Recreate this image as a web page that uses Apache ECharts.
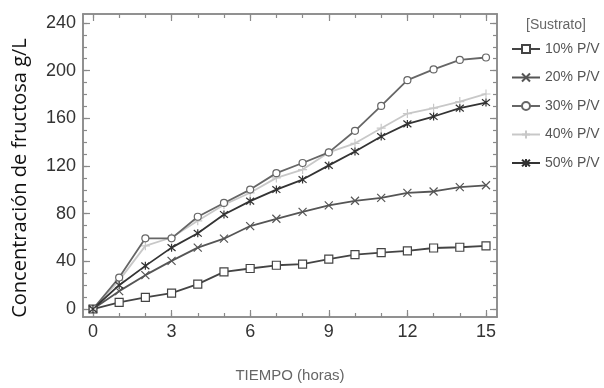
<!DOCTYPE html>
<html><head><meta charset="utf-8">
<script src="https://cdn.jsdelivr.net/npm/echarts@6/dist/echarts.min.js"></script>
<style>html,body{margin:0;padding:0;background:#fff}#c{width:604px;height:388px}</style>
</head><body><div id="c"></div>
<script>
const hours = [0,1,2,3,4,5,6,7,8,9,10,11,12,13,14,15];
const s10 = [0,5.6,9.7,13.4,20.9,31.2,34,36.7,37.6,41.8,45.7,47.3,48.7,51.2,51.8,52.9];
const s20 = [0,15,28.4,40.4,51.5,59,69.6,75.7,81.5,86.9,90.8,93.3,97.4,98.6,102.2,103.8];
const s30 = [0,26.4,59.3,59.3,77.4,89,100.2,114,122.5,131.4,149.5,170.4,192,201,209,211];
const s40 = [0,24,53,60,74,87.5,97.5,110,117,131.4,139,151.7,164,168.5,174,180.4];
const s50 = [0,20,36.2,51.5,63.5,79.3,90.5,100.2,108.6,120.5,132.2,144.7,155.3,161.5,168.5,173.2];
const seriesNames = ['10% P/V','20% P/V','30% P/V','40% P/V','50% P/V'];
const xTickLabels = [0,3,6,9,12,15];
const xMinorTicks = hours;
const yTickLabels = [0,40,80,120,160,200,240];
const yMinorTicks = [0,10,20,30,40,50,60,70,80,90,100,110,120,130,140,150,160,170,180,190,200,210,220,230,240];

const allData = [s10,s20,s30,s40,s50];
const colors = ['#444','#555','#666','#c8c8c8','#333'];
const symbols = ['rect','path://M0,0L10,10M0,10L10,0','circle','path://M5,0L5,10M0,5L10,5','path://M0,0L10,10M0,10L10,0M5,-1L5,11'];
const symSizes = [8,8,7,9,8];
const fills = ['#fff','rgba(0,0,0,0)','#fff','rgba(0,0,0,0)','rgba(0,0,0,0)'];

const FONT = '"Liberation Sans", Arial, sans-serif';
const frame = '#8a8a8a';
const XMIN=-0.38, XMAX=15.42, YMIN=-6.7, YMAX=247.5;
function xAx(pos, vals, len, labels){
  return {type:'value', position:pos, min:XMIN, max:XMAX,
    axisLine:{show:true, onZero:false, lineStyle:{color:frame,width:1.5}},
    axisTick:{show:true, inside:true, length:len, customValues:vals, lineStyle:{color:frame,width:1.2}},
    axisLabel:{show:labels, customValues:xTickLabels, color:'#333', fontSize:18, fontFamily:FONT, margin:6},
    splitLine:{show:false}};
}
function yAx(pos, vals, len, labels){
  return {type:'value', position:pos, min:YMIN, max:YMAX,
    axisLine:{show:true, onZero:false, lineStyle:{color:frame,width:1.5}},
    axisTick:{show:true, inside:true, length:len, customValues:vals, lineStyle:{color:frame,width:1.2}},
    axisLabel:{show:labels, customValues:yTickLabels, color:'#333', fontSize:18, fontFamily:FONT, margin:7},
    splitLine:{show:false}};
}
const xAxes = [xAx('bottom', xTickLabels, 7, true), xAx('bottom', xMinorTicks, 4, false), xAx('top', xTickLabels, 7, false), xAx('top', xMinorTicks, 4, false)];
xAxes[0].name = 'TIEMPO (horas)';
xAxes[0].nameLocation = 'middle';
xAxes[0].nameGap = 51;
xAxes[0].nameTextStyle = {color:'#666', fontSize:15, fontFamily:FONT};
const yAxes = [yAx('left', yTickLabels, 7, true), yAx('left', yMinorTicks, 4, false), yAx('right', yTickLabels, 7, false), yAx('right', yMinorTicks, 4, false)];

const series = allData.map((d,i)=>({
  name: seriesNames[i], type:'line', xAxisIndex:0, yAxisIndex:0,
  data: hours.map((h,j)=>[h,d[j]]),
  symbol: symbols[i], symbolSize: symSizes[i], showSymbol:true,
  lineStyle:{color:colors[i], width:1.8},
  itemStyle:{color: fills[i], borderColor:colors[i], borderWidth:1.2},
  z: i===3 ? 1 : 2,
  animation:false
}));

const chart = echarts.init(document.getElementById('c'), null, {renderer:'canvas'});
chart.setOption({
  animation:false,
  backgroundColor:'#fff',
  grid:{left:83, right:107, top:14, bottom:70, containLabel:false},
  title:{text:'[Sustrato]', left:521, top:13, textStyle:{color:'#666', fontSize:14, fontWeight:'normal', fontFamily:FONT}},
  legend:{orient:'vertical', left:511, top:42, itemWidth:28, itemHeight:10, itemGap:14.5, padding:0,
    textStyle:{color:'#555', fontSize:14, fontFamily:FONT},
    data: seriesNames},
  graphic:[{type:'text', x:20, y:178, rotation:Math.PI/2,
    style:{text:'Concentración de fructosa g/L', fill:'#111', font:'20px "Open Sans"', align:'center', verticalAlign:'middle'}}],
  xAxis: xAxes,
  yAxis: yAxes,
  series: series
});
</script></body></html>
